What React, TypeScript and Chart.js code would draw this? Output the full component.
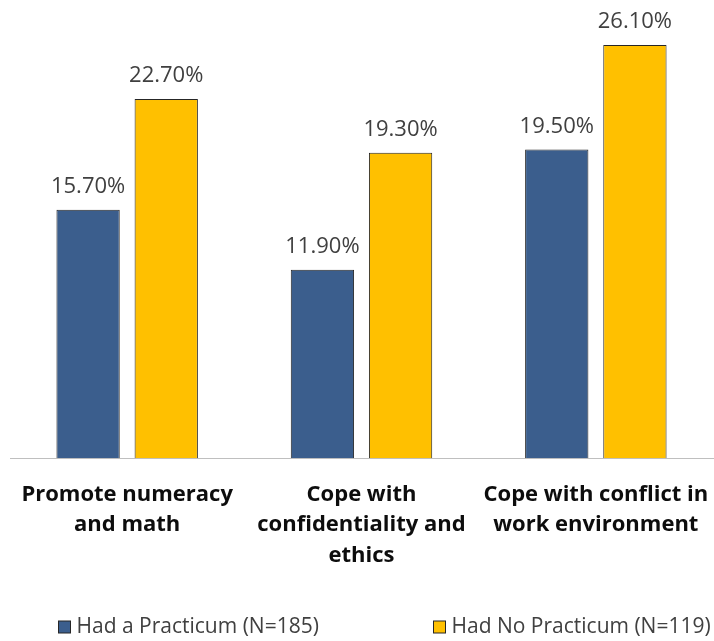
import React, { useEffect, useRef } from "react";
import { Chart, registerables } from "chart.js";

Chart.register(...registerables);

const categories: string[][] = [
  ["Promote numeracy", "and math"],
  ["Cope with", "confidentiality and", "ethics"],
  ["Cope with conflict in", "work environment"],
];
const seriesNames = ["Had a Practicum (N=185)", "Had No Practicum (N=119)"];
const hadPracticum = [15.7, 11.9, 19.5];
const hadNoPracticum = [22.7, 19.3, 26.1];
const seriesColors = ["#3B5E8D", "#FFC000"];

const FONT = "'Open Sans', Lato, sans-serif";

// value labels above each bar
const valueLabels = {
  id: "valueLabels",
  afterDatasetsDraw(chart: Chart) {
    const ctx = chart.ctx;
    ctx.save();
    ctx.font = `22px ${FONT}`;
    ctx.fillStyle = "#404040";
    ctx.textAlign = "center";
    ctx.textBaseline = "alphabetic";
    chart.data.datasets.forEach((ds, di) => {
      const meta = chart.getDatasetMeta(di);
      meta.data.forEach((el: any, i) => {
        const v = ds.data[i] as number;
        ctx.fillText(v.toFixed(2) + "%", el.x, el.y - 17);
      });
    });
    ctx.restore();
  },
};

// legend spread across the bottom
const spreadLegend = {
  id: "spreadLegend",
  afterDraw(chart: Chart) {
    const ctx = chart.ctx;
    const w = chart.width;
    const starts = [58 / 714, 433 / 714];
    const y = chart.height - 14;
    ctx.save();
    ctx.font = `21px ${FONT}`;
    ctx.textBaseline = "middle";
    ctx.textAlign = "left";
    chart.data.datasets.forEach((ds, di) => {
      const x = Math.round(starts[di] * w) + 0.5;
      ctx.fillStyle = ds.backgroundColor as string;
      ctx.fillRect(x, y - 6, 12, 12);
      ctx.strokeStyle = "#262626";
      ctx.lineWidth = 1;
      ctx.strokeRect(x, y - 6, 12, 12);
      ctx.fillStyle = "#404040";
      ctx.fillText(ds.label as string, x + 18, y);
    });
    ctx.restore();
  },
};

export default function App() {
  const ref = useRef<HTMLCanvasElement>(null);

  useEffect(() => {
    if (!ref.current) return;
    const chart = new Chart(ref.current, {
      type: "bar",
      data: {
        labels: categories,
        datasets: [
          {
            label: seriesNames[0],
            data: hadPracticum,
            backgroundColor: seriesColors[0],
            borderColor: "#262626",
            borderWidth: 1,
          },
          {
            label: seriesNames[1],
            data: hadNoPracticum,
            backgroundColor: seriesColors[1],
            borderColor: "#262626",
            borderWidth: 1,
          },
        ],
      },
      options: {
        animation: false,
        responsive: true,
        maintainAspectRatio: false,
        layout: { padding: { left: 10, right: 1, top: 15, bottom: 57 } },
        datasets: {
          bar: { categoryPercentage: 0.667, barPercentage: 0.81 },
        },
        plugins: {
          legend: { display: false },
          tooltip: { enabled: false },
        },
        scales: {
          x: {
            grid: { display: false },
            border: { display: true, color: "#BFBFBF", width: 1 },
            ticks: {
              color: "#0D0D0D",
              font: { family: FONT, size: 22, weight: "bold", lineHeight: 1.39 },
              padding: 13,
              maxRotation: 0,
              autoSkip: false,
            },
            // keep the plot area full width even if edge labels overhang
            afterFit(scale: any) {
              scale.paddingLeft = 0;
              scale.paddingRight = 0;
            },
          },
          y: {
            display: false,
            min: 0,
            max: 28,
          },
        },
      },
      plugins: [valueLabels, spreadLegend],
    });
    return () => chart.destroy();
  }, []);

  return (
    <div style={{ position: "fixed", left: 0, top: 0, width: 714, height: 641, background: "#fff" }}>
      <canvas ref={ref} />
    </div>
  );
}
